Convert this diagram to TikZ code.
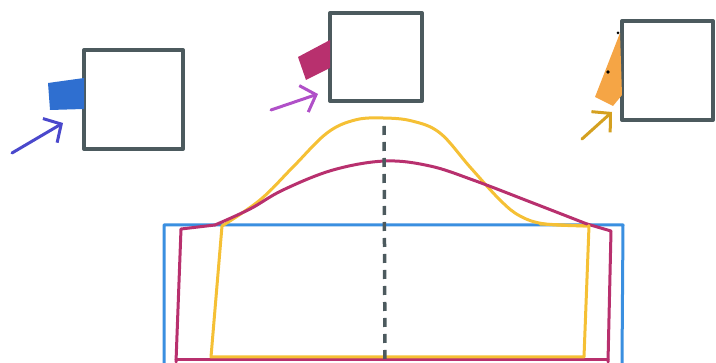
\documentclass[tikz,border=0pt]{standalone}
\usetikzlibrary{arrows.meta}
\definecolor{boxgray}{HTML}{4C5A5E}
\definecolor{padblue}{HTML}{2F6FD0}
\definecolor{lineblue}{HTML}{3A8FE0}
\definecolor{arrblue}{HTML}{4A48CC}
\definecolor{mag}{HTML}{B8306E}
\definecolor{arrviolet}{HTML}{B050C8}
\definecolor{orng}{HTML}{F5A545}
\definecolor{yell}{HTML}{F5C035}
\definecolor{gold}{HTML}{D4A020}
\tikzset{
  frame/.style={draw=boxgray, line width=4pt, line join=round},
  pen/.style={line width=3pt, line cap=round, line join=round},
  penarrow/.style={pen, -{Straight Barb[length=13pt,width=28pt,line width=3pt]}},
}
\begin{document}
\begin{tikzpicture}[x=1pt,y=-1pt]
\useasboundingbox (0,0) rectangle (716,363);
% top boxes
\draw[frame] (84,50) rectangle (183,149);
\draw[frame] (330,13) rectangle (422,101);
\draw[frame] (622,21) rectangle (713,120);
% blue pad
\fill[padblue] (48,83) -- (84,78) -- (84,109) -- (50,110) -- cycle;
% magenta pad
\fill[mag] (298,57) -- (330,40) -- (330,68) -- (306,80) -- cycle;
% orange wedge
\fill[orng] (620,33) -- (622,95) -- (613,106) -- (595,97) -- cycle;
\fill[black] (618,33) circle (1.5);
\fill[black] (608,72) circle (1.8);
% arrows
\coordinate (a1s) at (12,153); \coordinate (a1e) at (63,123);
\coordinate (a2s) at (271,110); \coordinate (a2e) at (318,94);
\coordinate (a3s) at (582,139); \coordinate (a3e) at (612,112);
\draw[penarrow, arrblue] (a1s) -- (a1e);
\draw[penarrow, arrviolet] (a2s) -- (a2e);
\draw[penarrow, gold] (a3s) -- (a3e);
% bottom rectangles
\draw[pen, lineblue] (164,363) -- (164,225) -- (623,225) -- (622,363);
\draw[pen, mag] (176,362) -- (181,229) -- (215,225);
\draw[pen, mag] (587,224) -- (611,231) -- (608,362);
\draw[pen, mag] (176,360) -- (608,360);
\draw[pen, yell] (222,226) -- (211,357) -- (584,357) -- (589,226) -- (540,224);
% curves
\draw[pen, yell] plot[smooth, tension=0.6] coordinates {(222,226) (260,200) (293,167) (327,133) (355,120) (383,118) (412,121) (440,133) (470,167) (500,200) (520,216) (545,224) (589,226)};
\draw[pen, mag] plot[smooth, tension=0.6] coordinates {(215,225) (250,209) (283,190) (333,170) (385,161) (430,166) (473,180) (533,203) (587,224)};
% axis
\draw[boxgray, line width=3.5pt, dash pattern=on 9pt off 7pt] (384,126) -- (385,363);
\end{tikzpicture}
\end{document}
